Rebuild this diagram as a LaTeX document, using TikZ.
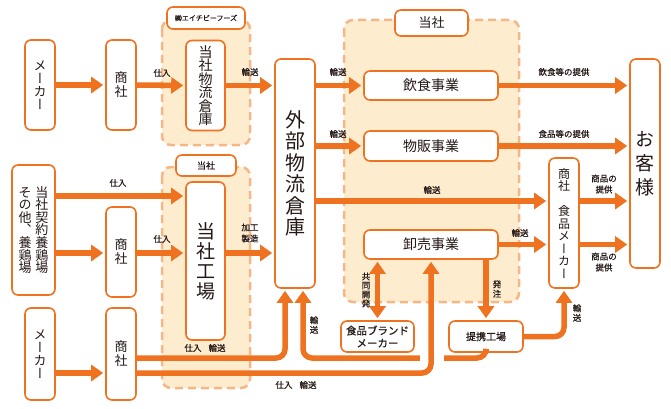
\documentclass[tikz,border=0pt]{standalone}
\usepackage{fontspec}
\usepackage{graphicx}
\setmainfont{Noto Sans CJK JP}
\newfontfamily\tatefont[RawFeature=+vert]{Noto Sans CJK JP}
\newfontfamily\lblfont[FakeBold=0.5]{Noto Sans CJK JP}
\newfontfamily\tatelblfont[RawFeature=+vert,FakeBold=0.5]{Noto Sans CJK JP}
\usetikzlibrary{arrows.meta, calc}
\definecolor{tkorange}{RGB}{238, 114, 32}
\definecolor{tkpeach}{RGB}{254, 236, 207}
\definecolor{tkdash}{RGB}{246, 183, 136}
\definecolor{tkink}{RGB}{35, 24, 21}

% vertical text: one character per row
\newcommand{\tate}[1]{\vbox{\lineskiplimit=-100pt\halign{\hfil##\hfil\cr#1\crcr}}}

\begin{document}
\begin{tikzpicture}[x=1pt, y=-1pt,
  box/.style={draw=tkorange, line width=1.6pt, fill=white, rounded corners=6pt, inner sep=0pt, text=tkink},
  area/.style={draw=tkdash, fill=tkpeach, line width=2.5pt, dash pattern=on 8pt off 5pt, rounded corners=9pt},
  flow/.style={draw=tkorange, line width=5.5pt, -{Triangle[length=12pt,width=16pt]}, shorten >=2pt, rounded corners=9pt},
  lbl/.style={font=\lblfont\fontsize{8.5}{11}\selectfont, text=tkink, inner sep=0pt, align=center},
  tlbl/.style={font=\tatelblfont\fontsize{8.5}{9.5}\selectfont, text=tkink, inner sep=0pt}]
\useasboundingbox (0,0) rectangle (671,409);

% company areas
\draw[area] (162,20) rectangle (250,145);
\draw[area] (162,167) rectangle (250,388);
\draw[area] (344,20) rectangle (519,302);
\node[box, minimum width=78pt, minimum height=22pt, font=\lblfont\fontsize{7}{8}\selectfont] (hbfname) at (206,18) {㈱エイチビーフーズ};
\node[box, minimum width=60pt, minimum height=21pt, font=\lblfont\fontsize{9}{10}\selectfont] (facname) at (206,165.5) {当社};
\node[box, minimum width=73pt, minimum height=26pt, font=\fontsize{13}{14}\selectfont] (toshaname) at (431.5,23) {当社};

% boxes
\node[box, minimum width=30pt, minimum height=90pt, font=\tatefont\fontsize{13}{13}\selectfont] (mk1) at (40,85) {\tate{メ\cr ー\cr カ\cr ー}};
\node[box, minimum width=30pt, minimum height=90pt, font=\tatefont\fontsize{13}{14}\selectfont] (sh1) at (121,85) {\tate{商\cr 社}};
\node[box, minimum width=39pt, minimum height=90pt, font=\tatefont\fontsize{14}{13.5}\selectfont] (whs) at (205.5,85.5) {\tate{当\cr 社\cr 物\cr 流\cr 倉\cr 庫}};
\node[box, minimum width=40pt, minimum height=229pt, font=\tatefont\fontsize{20}{21.5}\selectfont] (ext) at (295,173.5) {\tate{外\cr 部\cr 物\cr 流\cr 倉\cr 庫}};
\node[box, minimum width=134pt, minimum height=29pt, font=\fontsize{14}{15}\selectfont] (eat) at (431,85.5) {飲食事業};
\node[box, minimum width=134pt, minimum height=30pt, font=\fontsize{14}{15}\selectfont] (shop) at (431,146) {物販事業};
\node[box, minimum width=134pt, minimum height=29pt, font=\fontsize{14}{15}\selectfont] (whole) at (431,244.5) {卸売事業};
\node[box, minimum width=30pt, minimum height=209pt, font=\tatefont\fontsize{19}{24}\selectfont] (cust) at (645,163.5) {\tate{お\cr 客\cr 様}};
\node[box, minimum width=30pt, minimum height=130pt, font=\tatefont\fontsize{12}{12.5}\selectfont] (maker) at (564,223) {\tate{商\cr 社\cr \cr 食\cr 品\cr メ\cr ー\cr カ\cr ー}};
\node[box, minimum width=43pt, minimum height=130pt, font=\tatefont\fontsize{13}{12.6}\selectfont] (farm) at (33.5,230) {\tate{そ\cr の\cr 他\cr 、\cr 養\cr 鶏\cr 場}\hspace{4pt}\tate{当\cr 社\cr 契\cr 約\cr 養\cr 鶏\cr 場}};
\node[box, minimum width=30pt, minimum height=90pt, font=\tatefont\fontsize{13}{14}\selectfont] (sh2) at (121,252) {\tate{商\cr 社}};
\node[box, minimum width=39pt, minimum height=158pt, font=\tatefont\fontsize{19}{20}\selectfont] (fac) at (205.5,261) {\tate{当\cr 社\cr 工\cr 場}};
\node[box, minimum width=30pt, minimum height=92pt, font=\tatefont\fontsize{13}{13}\selectfont] (mk3) at (40,354) {\tate{メ\cr ー\cr カ\cr ー}};
\node[box, minimum width=30pt, minimum height=92pt, font=\tatefont\fontsize{13}{14}\selectfont] (sh3) at (121,354) {\tate{商\cr 社}};
\node[box, minimum width=73pt, minimum height=31pt, font=\lblfont\fontsize{10.5}{12.5}\selectfont, align=center] (brand) at (377.5,336.5) {食品ブランド\\メーカー};
\node[box, minimum width=74pt, minimum height=31pt, font=\lblfont\fontsize{10}{12}\selectfont] (partner) at (486,336.5) {提携工場};

% helper levels
\coordinate (r196) at (0,196);
\coordinate (r201) at (0,201);
\coordinate (r253) at (0,253);
\coordinate (r358) at (0,358);
\coordinate (r373) at (0,373);

% upper flow
\draw[flow] (mk1.east) -- (sh1.west);
\draw[flow] (sh1.east) -- (whs.west);
\draw[flow] (whs.east) -- (whs.east -| ext.west);
\draw[flow] (eat.west -| ext.east) -- (eat.west);
\draw[flow] (shop.west -| ext.east) -- (shop.west);
\draw[flow] (eat.east) -- (eat.east -| cust.west);
\draw[flow] (shop.east) -- (shop.east -| cust.west);
\draw[flow] (ext.east |- r201) -- (maker.west |- r201);
\draw[flow] (maker.east |- r201) -- (cust.west |- r201);
\draw[flow] (whole.east) -- (whole.east -| maker.west);
\draw[flow] (whole.east -| maker.east) -- (whole.east -| cust.west);

% factory flow
\draw[flow] (farm.east |- r196) -- (fac.west |- r196);
\draw[flow] (farm.east |- r253) -- (sh2.west |- r253);
\draw[flow] (sh2.east |- r253) -- (fac.west |- r253);
\draw[flow] (fac.east |- r253) -- (ext.west |- r253);

% lower flow
\draw[flow] (mk3.east |- r373) -- (sh3.west |- r373);
\draw[flow] (sh3.east |- r358) -| ($(ext.south)+(-10,0)$);
\draw[flow] (partner.south) -- (partner.south |- r358) -| ($(ext.south)+(8,0)$);
\fill[white] (420,353) rectangle (444,364);
\draw[flow] (sh3.east |- r373) -| (whole.south);
\draw[flow] (whole.south -| partner.north) -- (partner.north);
\draw[flow, {Triangle[length=12pt,width=16pt]}-{Triangle[length=12pt,width=16pt]}, shorten <=2pt] (brand.north) -- (brand.north |- whole.south);
\draw[flow] (partner.east) -| (maker.south);

% labels
\node[lbl] (l1) at (162,73) {仕入};
\node[lbl] (l2) at (250,72) {輸送};
\node[lbl] (l3) at (338,72) {輸送};
\node[lbl] (l4) at (338,134) {輸送};
\node[lbl] (l5) at (564,72) {飲食等の提供};
\node[lbl] (l6) at (564,134) {食品等の提供};
\node[lbl] (l7) at (432,190) {輸送};
\node[lbl] (l8) at (604,184) {商品の\\提供};
\node[lbl] (l9) at (520,233) {輸送};
\node[lbl] (l10) at (604,262) {商品の\\提供};
\node[lbl] (l11) at (118,183) {仕入};
\node[lbl] (l12) at (162,239) {仕入};
\node[lbl] (l13) at (250,233) {加工\\製造};
\node[lbl] (l14) at (205,348) {仕入\hspace{7pt}輸送};
\node[lbl] (l15) at (296,385) {仕入\hspace{7pt}輸送};
\node[tlbl] (l16) at (314,325) {\tate{輸\cr 送}};
\node[tlbl, font=\tatelblfont\fontsize{8.5}{9}\selectfont] (l17) at (366,290) {\tate{共\cr 同\cr 開\cr 発}};
\node[tlbl] (l18) at (497,289) {\tate{発\cr 注}};
\node[tlbl] (l19) at (577,313) {\tate{輸\cr 送}};
\end{tikzpicture}
\end{document}
